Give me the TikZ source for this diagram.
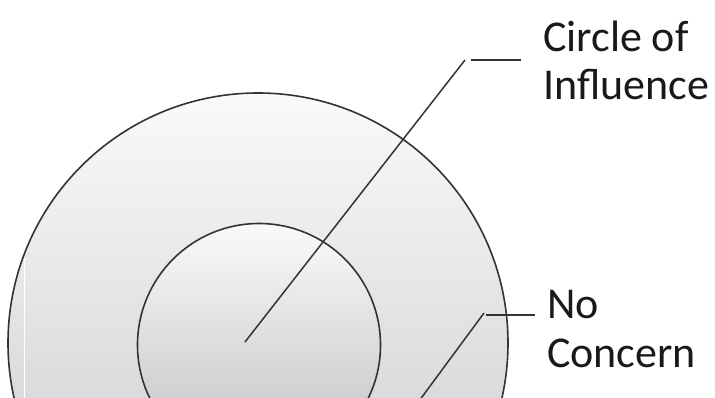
\documentclass[tikz,border=0pt]{standalone}
\usepackage{fontspec}
\setmainfont{Carlito}
\begin{document}
\begin{tikzpicture}[x=1pt,y=-1pt,
  ring/.style={draw=black!80,line width=1.6pt},
  leader/.style={draw=black!80,line width=1.5pt},
  lbl/.style={anchor=base west,inner sep=0pt,font=\fontsize{44}{48.5}\selectfont,text=black!90,align=left}]
\useasboundingbox (0,0) rectangle (715,398);
\clip (0,0) rectangle (715,398);
\fill[white] (0,0) rectangle (715,398);
\node[ring,circle,minimum size=500pt,inner sep=0pt,top color=black!2,bottom color=black!22] (outer) at (258,343) {};
\draw[white,line width=1pt] (24,258) -- (24,398);
\node[ring,circle,minimum size=243pt,inner sep=0pt,top color=black!2,bottom color=black!25] (inner) at (259,345) {};
\coordinate (c1) at (245,342);
\coordinate (k1) at (465,60);
\coordinate (h1) at (471,60);
\coordinate (e1) at (521,60);
\draw[leader] (c1) -- (k1);
\draw[leader] (h1) -- (e1);
\node[lbl] (influence) at (543,100) {Circle of\\Influence};
\coordinate (c2) at (405,420);
\coordinate (k2) at (484,313);
\coordinate (h2) at (486,315);
\coordinate (e2) at (535,315);
\draw[leader] (c2) -- (k2);
\draw[leader] (h2) -- (e2);
\node[lbl] (concern) at (547,367) {No\\Concern};
\end{tikzpicture}
\end{document}
